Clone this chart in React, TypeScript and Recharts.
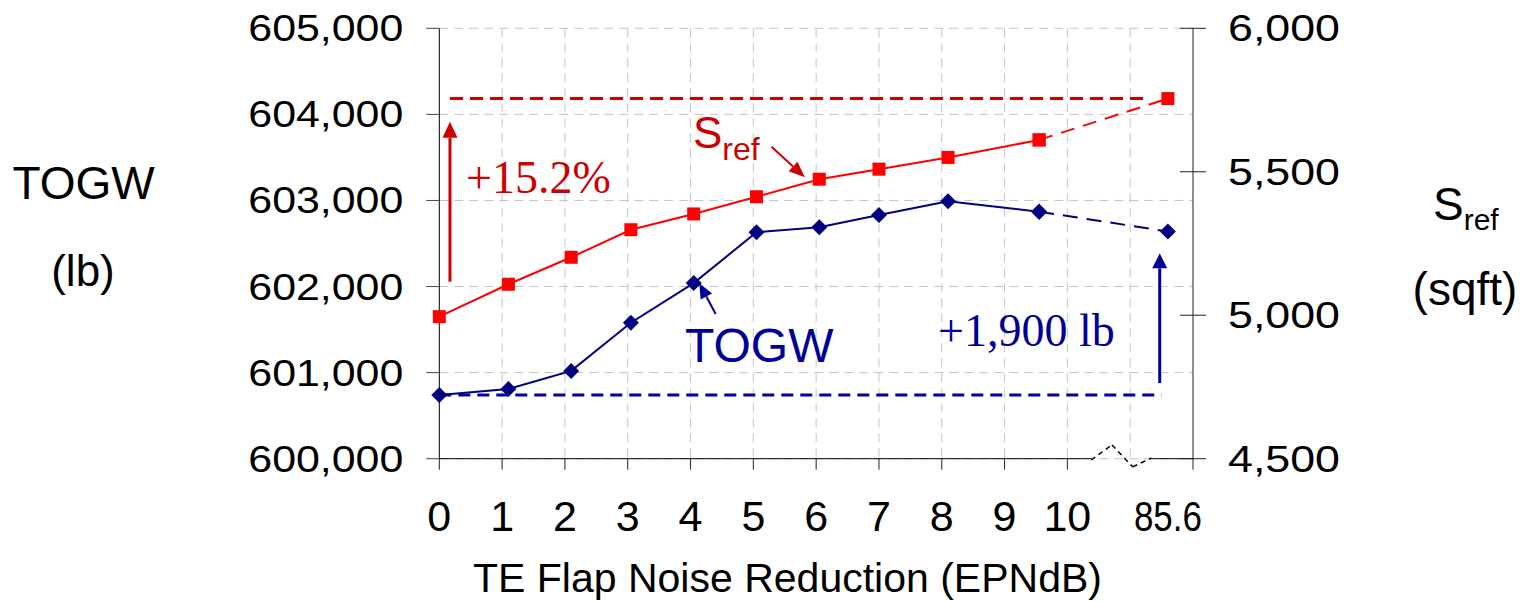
import React from 'react';
import { LineChart, Line, XAxis, YAxis, CartesianGrid, ReferenceLine } from 'recharts';

// TE flap noise reduction cases (EPNdB); the last case sits past the axis break
const noiseReduction = [0, 1.1, 2.1, 3.05, 4.05, 5.05, 6.05, 7.0, 8.1, 9.55, 85.6];
const togw = [600740, 600810, 601020, 601580, 602040, 602630, 602690, 602830, 602990, 602870, 602640];
const sref = [4995, 5108, 5202, 5298, 5353, 5413, 5474, 5509, 5550, 5611, 5755];

const xTicks = [0, 1, 2, 3, 4, 5, 6, 7, 8, 9, 10];
const gridX = [1, 2, 3, 4, 5, 6, 7, 8, 9, 10, 11];
const togwTicks = [600000, 601000, 602000, 603000, 604000, 605000];
const srefTicks = [4500, 5000, 5500, 6000];

const SOLID_END = 9; // later points are extrapolated, drawn dashed
const X_MAX = 12;
const LAST_POS = 11.6;
const BREAK_FROM = 10.38;
const BREAK_TO = 11.34;

const RED = '#ff0000';
const DARK_RED = '#cc0000';
const NAVY = '#000080';
const BLUE = '#000099';
const SANS = '"Liberation Sans", Arial, sans-serif';
const SERIF = '"Liberation Serif", "Times New Roman", serif';

const axisPos = (v: number) => (v > 10 ? LAST_POS : v);

const data = noiseReduction.map((nr, i) => ({
  x: axisPos(nr),
  togw: i <= SOLID_END ? togw[i] : null,
  togwExt: i >= SOLID_END ? togw[i] : null,
  sref: i <= SOLID_END ? sref[i] : null,
  srefExt: i >= SOLID_END ? sref[i] : null,
}));

const fmt = (v: number) => v.toLocaleString('en-US');

const SquareDot = (p: any) => {
  const { cx, cy, index } = p;
  if (cx == null || cy == null) return <g key={index} />;
  return <rect key={index} x={cx - 6.5} y={cy - 6.5} width={13} height={13} fill={RED} />;
};

const DiamondDot = (p: any) => {
  const { cx, cy, index } = p;
  if (cx == null || cy == null) return <g key={index} />;
  const r = 8;
  return <polygon key={index} points={`${cx},${cy - r} ${cx + r},${cy} ${cx},${cy + r} ${cx - r},${cy}`} fill={NAVY} />;
};

const LeftTick = (p: any) => {
  const { x, y, payload } = p;
  return (
    <g>
      <line x1={x - 13} y1={y} x2={x} y2={y} stroke="#444" />
      <text x={x - 36} y={y + 13} textAnchor="end" fontSize={37} fontFamily={SANS} fill="#000"
        textLength={155} lengthAdjust="spacingAndGlyphs">{fmt(payload.value)}</text>
    </g>
  );
};

const RightTick = (p: any) => {
  const { x, y, payload } = p;
  return (
    <g>
      <line x1={x - 13} y1={y} x2={x + 13} y2={y} stroke="#222" />
      <text x={x + 35} y={y + 13} textAnchor="start" fontSize={37} fontFamily={SANS} fill="#000"
        textLength={112} lengthAdjust="spacingAndGlyphs">{fmt(payload.value)}</text>
    </g>
  );
};

const BottomTick = (p: any) => {
  const { x, y, payload } = p;
  const v = payload.value;
  const isLast = v === LAST_POS;
  const hasLine = v !== LAST_POS;
  const hasLabel = v !== X_MAX;
  const label = isLast ? String(noiseReduction[noiseReduction.length - 1]) : String(v);
  return (
    <g>
      {hasLine && <line x1={x} y1={y} x2={x} y2={y + 11} stroke="#222" />}
      {hasLabel && (
        <text x={x} y={y + 72} textAnchor="middle" fontSize={43} fontFamily={SANS} fill="#000"
          {...(isLast ? { textLength: 68, lengthAdjust: 'spacingAndGlyphs' } : {})}>{label}</text>
      )}
    </g>
  );
};

const arrowShape = (color: string, width: number, len: number, half: number) => (p: any) => {
  const { x1, y1, x2, y2 } = p;
  const a = Math.atan2(y2 - y1, x2 - x1);
  const c = Math.cos(a);
  const s = Math.sin(a);
  const bx = x2 - len * c;
  const by = y2 - len * s;
  const pts = `${x2},${y2} ${bx - half * s},${by + half * c} ${bx + half * s},${by - half * c}`;
  return (
    <g>
      <line x1={x1} y1={y1} x2={bx} y2={by} stroke={color} strokeWidth={width} />
      <polygon points={pts} fill={color} />
    </g>
  );
};

export default function App() {
  const last = noiseReduction.length - 1;
  return (
    <div style={{ position: 'absolute', left: 0, top: 0, width: 1524, height: 602, background: '#fff' }}>
      <LineChart width={1524} height={602} data={data}
        margin={{ top: 28.3, right: 231, bottom: 83.3, left: 339.3 }}>
        <CartesianGrid yAxisId="left" stroke="#c4c4c4" strokeDasharray="9 6"
          verticalValues={gridX} />
        <XAxis type="number" dataKey="x" domain={[0, X_MAX]} ticks={[...xTicks, LAST_POS, X_MAX]}
          interval={0} axisLine={false} tickLine={false} tickSize={0} tickMargin={0}
          tick={<BottomTick />} height={60} />
        <YAxis yAxisId="left" domain={[600000, 605000]} ticks={togwTicks} interval={0}
          width={100} axisLine={{ stroke: '#000' }} tickLine={false} tickSize={0} tickMargin={0}
          tick={<LeftTick />} />
        <YAxis yAxisId="right" orientation="right" domain={[4500, 6000]} ticks={srefTicks} interval={0}
          width={100} axisLine={{ stroke: '#222' }} tickLine={false} tickSize={0} tickMargin={0}
          tick={<RightTick />} />

        {/* broken x axis */}
        <ReferenceLine yAxisId="left" segment={[{ x: 0, y: 600000 }, { x: BREAK_FROM, y: 600000 }]} stroke="#000" />
        <ReferenceLine yAxisId="left" segment={[{ x: BREAK_TO, y: 600000 }, { x: X_MAX, y: 600000 }]} stroke="#000" />
        <ReferenceLine yAxisId="left" ifOverflow="visible" segment={[{ x: BREAK_FROM, y: 599985 }, { x: 10.71, y: 600160 }]}
          stroke="#000" strokeWidth={1.5} strokeDasharray="5 4" />
        <ReferenceLine yAxisId="left" ifOverflow="visible" segment={[{ x: 10.71, y: 600160 }, { x: 11.04, y: 599905 }]}
          stroke="#000" strokeWidth={1.5} strokeDasharray="5 4" />
        <ReferenceLine yAxisId="left" ifOverflow="visible" segment={[{ x: 11.04, y: 599905 }, { x: BREAK_TO, y: 600008 }]}
          stroke="#000" strokeWidth={1.5} strokeDasharray="5 4" />

        {/* baselines for the deltas */}
        <ReferenceLine yAxisId="right" segment={[{ x: 0.17, y: sref[last] }, { x: 11.24, y: sref[last] }]}
          stroke={DARK_RED} strokeWidth={3} strokeDasharray="13 7" />
        <ReferenceLine yAxisId="left" segment={[{ x: 0, y: togw[0] }, { x: 11.5, y: togw[0] }]}
          stroke="#0000aa" strokeWidth={3} strokeDasharray="12 7" />

        <Line yAxisId="right" dataKey="sref" stroke={RED} strokeWidth={2} dot={SquareDot}
          isAnimationActive={false} />
        <Line yAxisId="right" dataKey="srefExt" stroke={RED} strokeWidth={2} strokeDasharray="14 9"
          dot={SquareDot} isAnimationActive={false} />
        <Line yAxisId="left" dataKey="togw" stroke={NAVY} strokeWidth={2} dot={DiamondDot}
          isAnimationActive={false} />
        <Line yAxisId="left" dataKey="togwExt" stroke={NAVY} strokeWidth={2} strokeDasharray="15 9"
          dot={DiamondDot} isAnimationActive={false} />

        {/* arrows */}
        <ReferenceLine yAxisId="right" segment={[{ x: 0.17, y: 5117 }, { x: 0.17, y: 5674 }]}
          shape={arrowShape(DARK_RED, 3, 16, 7.5)} />
        <ReferenceLine yAxisId="right" segment={[{ x: 5.29, y: 5587 }, { x: 5.82, y: 5481 }]}
          shape={arrowShape(DARK_RED, 2, 16, 6.5)} />
        <ReferenceLine yAxisId="left" segment={[{ x: 4.4, y: 601681 }, { x: 4.14, y: 602038 }]}
          shape={arrowShape(BLUE, 2, 15, 6.5)} />
        <ReferenceLine yAxisId="left" segment={[{ x: 11.47, y: 600879 }, { x: 11.47, y: 602386 }]}
          shape={arrowShape(BLUE, 3, 15, 7.5)} />

        <g>
          <text x={83.5} y={199} textAnchor="middle" fontSize={46} fontFamily={SANS} fill="#000">TOGW</text>
          <text x={83} y={286} textAnchor="middle" fontSize={44} fontFamily={SANS} fill="#000">(lb)</text>
          <text x={1433} y={220} fontSize={46} fontFamily={SANS} fill="#000">
            S<tspan dy={10} fontSize={30}>ref</tspan>
          </text>
          <text x={1465} y={305} textAnchor="middle" fontSize={46} fontFamily={SANS} fill="#000">(sqft)</text>
          <text x={473} y={592} fontSize={41} fontFamily={SANS} fill="#000"
            textLength={629} lengthAdjust="spacingAndGlyphs">TE Flap Noise Reduction (EPNdB)</text>

          <text x={466} y={193} fontSize={46} fontFamily={SERIF} fill={DARK_RED}>+15.2%</text>
          <text x={693} y={148} fontSize={44} fontFamily={SANS} fill={DARK_RED}>
            S<tspan dy={12} fontSize={32}>ref</tspan>
          </text>
          <text x={685} y={362} fontSize={48} fontFamily={SANS} fill={BLUE}>TOGW</text>
          <text x={938} y={346} fontSize={46} fontFamily={SERIF} fill={BLUE}>+1,900 lb</text>
        </g>
      </LineChart>
    </div>
  );
}
